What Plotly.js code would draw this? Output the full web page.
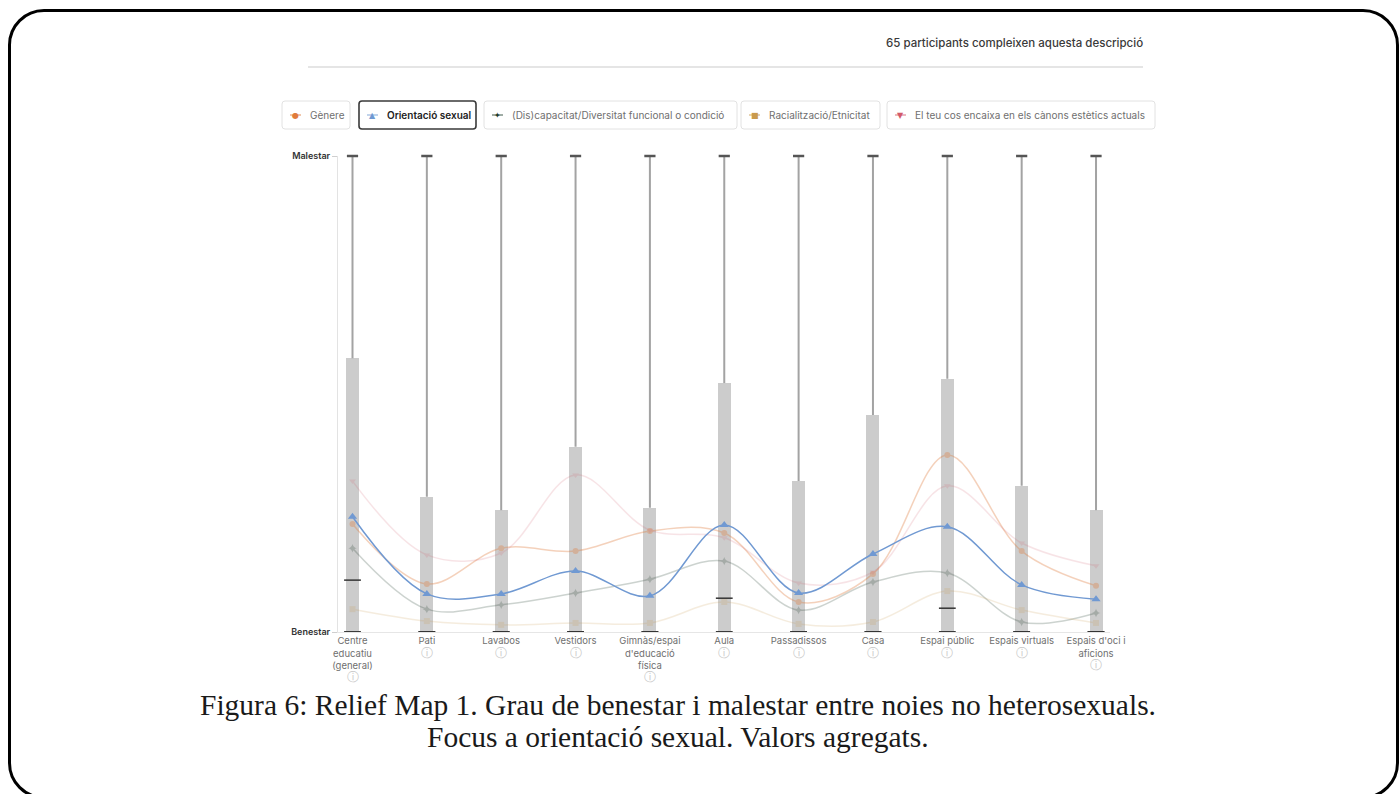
<!DOCTYPE html>
<html><head><meta charset="utf-8">
<script src="https://cdn.plot.ly/plotly-3.0.1.min.js"></script>
<style>
html,body{margin:0;padding:0;background:#fff;}
#wrap{position:relative;width:1400px;height:794px;overflow:hidden;}
#chart{position:absolute;left:0;top:0;width:1400px;height:794px;}
#frame{position:absolute;left:8px;top:9px;width:1391px;height:790px;box-sizing:border-box;border:3px solid #000;border-radius:36px;pointer-events:none;}
</style></head>
<body><div id="wrap"><div id="chart"></div><div id="frame"></div></div>
<script>
// ---------- DATA ----------
const categories = ["Centre educatiu (general)", "Pati", "Lavabos", "Vestidors", "Gimnàs/espai d'educació física", "Aula", "Passadissos", "Casa", "Espai públic", "Espais virtuals", "Espais d'oci i aficions"];
const tickLabels = ["Centre<br>educatiu<br>(general)", "Pati", "Lavabos", "Vestidors", "Gimnàs/espai<br>d'educació<br>física", "Aula", "Passadissos", "Casa", "Espai públic", "Espais virtuals", "Espais d'oci i<br>aficions"];
const yTickVals = [0, 10];
const yTickLabels = ["Benestar", "Malestar"];

const boxTop = [5.75, 2.84, 2.56, 3.89, 2.61, 5.23, 3.17, 4.56, 5.32, 3.07, 2.56];
const whiskerMax = [10, 10, 10, 10, 10, 10, 10, 10, 10, 10, 10];
const minValues = [0, 0, 0, 0, 0, 0, 0, 0, 0, 0, 0];
const medians = [1.09, 0, 0, 0, 0, 0.71, 0, 0, 0.50, 0, 0];

const seriesNames = ["Gènere", "Orientació sexual", "(Dis)capacitat/Diversitat funcional o condició", "Racialització/Etnicitat", "El teu cos encaixa en els cànons estètics actuals"];
const genere       = [2.27, 1.01, 1.76, 1.70, 2.12, 2.08, 0.63, 1.22, 3.72, 1.70, 0.97];
const orientacio   = [2.42, 0.80, 0.80, 1.28, 0.76, 2.25, 0.82, 1.64, 2.21, 0.99, 0.69];
const discapacitat = [1.76, 0.48, 0.57, 0.82, 1.11, 1.49, 0.46, 1.05, 1.24, 0.21, 0.40];
const racialitzacio= [0.48, 0.23, 0.15, 0.19, 0.19, 0.63, 0.17, 0.21, 0.86, 0.46, 0.19];
const cos          = [3.17, 1.62, 1.66, 3.30, 2.14, 1.98, 1.03, 1.26, 3.07, 1.87, 1.39];
const seriesValues = [genere, orientacio, discapacitat, racialitzacio, cos];
const focusIndex = 1;

const headerText = "65 participants compleixen aquesta descripció";
const captionLines = ["Figura 6: Relief Map 1. Grau de benestar i malestar entre noies no heterosexuals.", "Focus a orientació sexual. Valors agregats."];

// ---------- STYLE ----------
const seriesColors = ["#e07b3c", "#7099d2", "#1e3a2a", "#c99a4c", "#d35a6a"];
const seriesSymbols = ["circle", "triangle-up", "star-diamond", "square", "triangle-down"];
const seriesGlyphs = ["●", "▲", "✦", "■", "▼"];
const fadedOpacity = [0.34, 1, 0.22, 0.18, 0.16];

const L = 338, R = 1110, T = 156, B = 632;
const px = v => (v - L) / (R - L);
const py = v => (B - v) / (B - T);
const FONT = "Inter, 'Noto Sans', sans-serif";

const traces = [];
traces.push({type: "bar", x: categories, y: boxTop, base: 0, width: 0.175,
  marker: {color: "#cccccc", line: {width: 0}}, hoverinfo: "skip", showlegend: false});
const wx = [], wy = [];
categories.forEach((c, i) => { wx.push(c, c, null); wy.push(boxTop[i], whiskerMax[i], null); });
traces.push({type: "scatter", mode: "lines", x: wx, y: wy, line: {color: "#a3a3a3", width: 2},
  hoverinfo: "skip", showlegend: false, cliponaxis: false});
seriesValues.forEach((vals, k) => {
  if (k === focusIndex) return;
  traces.push({type: "scatter", mode: "lines+markers", x: categories, y: vals, name: seriesNames[k],
    line: {color: seriesColors[k], width: 1.5, shape: "spline", smoothing: 1},
    marker: {symbol: seriesSymbols[k], size: 6, color: seriesColors[k]},
    opacity: fadedOpacity[k], showlegend: false, cliponaxis: false});
});
traces.push({type: "scatter", mode: "markers", x: categories, y: whiskerMax,
  marker: {symbol: "line-ew", size: 8, line: {width: 2.5, color: "#555"}}, hoverinfo: "skip", showlegend: false, cliponaxis: false});
traces.push({type: "scatter", mode: "markers", x: categories, y: minValues,
  marker: {symbol: "line-ew", size: 12, line: {width: 2, color: "#3a3a3a"}}, hoverinfo: "skip", showlegend: false, cliponaxis: false});
traces.push({type: "scatter", mode: "markers", x: categories, y: medians,
  marker: {symbol: "line-ew", size: 12, line: {width: 1.5, color: "#333"}}, hoverinfo: "skip", showlegend: false, cliponaxis: false});
traces.push({type: "scatter", mode: "lines+markers", x: categories, y: seriesValues[focusIndex], name: seriesNames[focusIndex],
  line: {color: seriesColors[focusIndex], width: 1.5, shape: "spline", smoothing: 1},
  marker: {symbol: seriesSymbols[focusIndex], size: 8, color: seriesColors[focusIndex]},
  showlegend: false, cliponaxis: false});

// ---------- LEGEND (boxes) ----------
const legendBoxes = [[282, 350], [359, 476], [484, 737], [741, 880], [887, 1155]];
const legTop = 101, legBot = 129;
function roundRect(x0, y0, x1, y1, r) {
  const X = v => px(v), Y = v => py(v);
  return `M ${X(x0 + r)} ${Y(y0)} L ${X(x1 - r)} ${Y(y0)} Q ${X(x1)} ${Y(y0)} ${X(x1)} ${Y(y0 + r)} ` +
    `L ${X(x1)} ${Y(y1 - r)} Q ${X(x1)} ${Y(y1)} ${X(x1 - r)} ${Y(y1)} L ${X(x0 + r)} ${Y(y1)} ` +
    `Q ${X(x0)} ${Y(y1)} ${X(x0)} ${Y(y1 - r)} L ${X(x0)} ${Y(y0 + r)} Q ${X(x0)} ${Y(y0)} ${X(x0 + r)} ${Y(y0)} Z`;
}
const shapes = [];
const annotations = [];
legendBoxes.forEach((bx, k) => {
  const active = k === focusIndex;
  shapes.push({type: "path", xref: "paper", yref: "paper", path: roundRect(bx[0], legTop, bx[1], legBot, 3),
    line: {color: active ? "#3a3a3a" : "#e2e2e2", width: active ? 1.6 : 1}, fillcolor: "rgba(0,0,0,0)"});
  const cy = (legTop + legBot) / 2;
  shapes.push({type: "line", xref: "paper", yref: "paper", x0: px(bx[0] + 8), x1: px(bx[0] + 19), y0: py(cy), y1: py(cy),
    line: {color: seriesColors[k], width: 1.2}, opacity: 0.7});
  annotations.push({xref: "paper", yref: "paper", x: px(bx[0] + 13.5), y: py(cy), text: seriesGlyphs[k], showarrow: false,
    xanchor: "center", yanchor: "middle", font: {family: "DejaVu Sans", size: 8, color: seriesColors[k]}});
  annotations.push({xref: "paper", yref: "paper", x: px(bx[0] + 26), y: py(cy), text: seriesNames[k], showarrow: false,
    xanchor: "left", yanchor: "middle",
    font: {family: FONT, size: 10, color: active ? "#222" : "#6f6f6f", weight: active ? 600 : 400}});
});
shapes.push({type: "line", xref: "paper", yref: "paper", x0: px(308), x1: px(1143), y0: py(67), y1: py(67),
  line: {color: "#dcdcdc", width: 1.5}});
annotations.push({xref: "paper", yref: "paper", x: px(1145), y: py(43), text: headerText, showarrow: false,
  xanchor: "right", yanchor: "middle", font: {family: FONT, size: 11.5, color: "#3a3a3a", weight: 500}});
const captionY = [705, 737];
captionLines.forEach((t, i) => {
  annotations.push({xref: "paper", yref: "paper", x: px(678), y: py(captionY[i]), text: t, showarrow: false,
    xanchor: "center", yanchor: "middle", align: "center",
    font: {family: "'Liberation Serif', 'Times New Roman', serif", size: 29.5, color: "#1a1a1a"}});
});

const tickText = tickLabels.map(t => t + '<br><span style="font-size:12px;color:#c8c8c8">ⓘ</span>');

const layout = {
  width: 1400, height: 794,
  margin: {l: L, r: 1400 - R, t: T, b: 794 - B, pad: 0},
  paper_bgcolor: "#ffffff", plot_bgcolor: "rgba(0,0,0,0)",
  showlegend: false, bargap: 0,
  xaxis: {type: "category", range: [-0.195, 10.188], tickvals: categories, ticktext: tickText,
    showline: true, linecolor: "#e6e6e6", linewidth: 1, showgrid: false, zeroline: false, ticks: "",
    tickfont: {family: FONT, size: 9.5, color: "#6f6f6f"}, tickangle: 0, fixedrange: true},
  yaxis: {range: [0, 10], tickvals: yTickVals, ticktext: yTickLabels, showline: true, linecolor: "#e3e3e3",
    linewidth: 1, showgrid: false, zeroline: false, ticks: "outside", ticklen: 5, tickcolor: "#cfcfcf",
    tickfont: {family: FONT, size: 9, color: "#333", weight: 600}, fixedrange: true},
  shapes: shapes, annotations: annotations
};
Plotly.newPlot("chart", traces, layout, {displayModeBar: false, staticPlot: true});
</script>
</body></html>
